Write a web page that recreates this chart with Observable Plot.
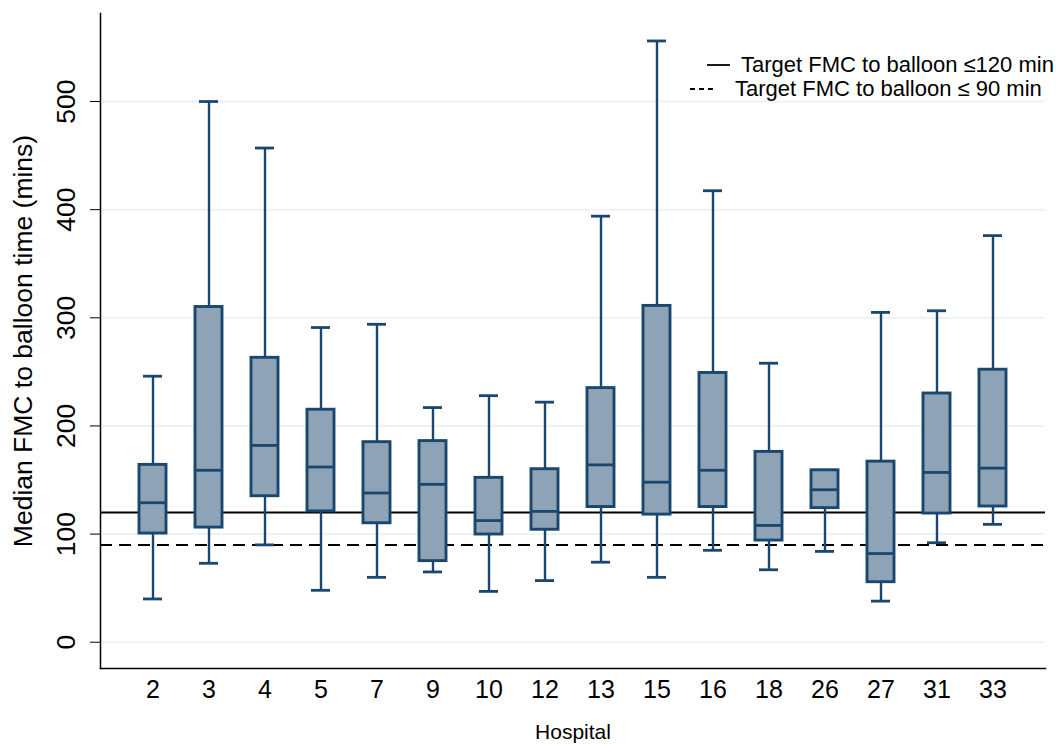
<!DOCTYPE html>
<html><head><meta charset="utf-8">
<script src="https://cdn.jsdelivr.net/npm/d3@7"></script>
<script src="https://cdn.jsdelivr.net/npm/@observablehq/plot@0.6"></script>
<style>
body{margin:0;background:#fff;font-family:"Liberation Sans",Arial,sans-serif}
#wrap{position:relative;width:1056px;height:744px;overflow:hidden}
#legend{position:absolute;left:686px;top:53px;font-size:22px;line-height:24px;color:#000;white-space:nowrap}
#legend .row{display:flex;align-items:center}
</style>
</head><body><div id="wrap"><div id="legend"></div></div>
<script>
const hospitals = ["2","3","4","5","7","9","10","12","13","15","16","18","26","27","31","33"];
const lowWhisker = [40,73,90,48,60,65,47,57,74,60,85,67,84,38,92,109];
const q1 = [100.5,106,135,121,110,75,99.6,104,125,118,125,94,124,55.5,119,125.5];
const median = [129,159,182,162,138,146,112.5,121,164,148,159,108,141,82,157,161];
const q3 = [164,310,263,215,185,186,152,160,235,311,249,176,159,167,230,252];
const highWhisker = [246,500,457,291,294,217,228,222,394,556,417.5,258,159,305,306.5,376];
const yTicks = [0,100,200,300,400,500];
const targetLines = [120, 90];
const targetLabels = ["Target FMC to balloon \u2264120 min", "Target FMC to balloon \u2264 90 min"];

const data = hospitals.map((h,i)=>({h, lo:lowWhisker[i], q1:q1[i], med:median[i], q3:q3[i], hi:highWhisker[i]}));
const navy = "#1a476f", fillc = "#8ea3b6";

const chart = Plot.plot({
  width: 1056, height: 744,
  marginLeft: 100, marginRight: 11, marginTop: 13, marginBottom: 76,
  style: {fontFamily: "'Liberation Sans', Arial, sans-serif", fontSize: "25px", color: "#000", background: "#fff"},
  x: {type: "band", domain: hospitals, paddingInner: 0.52, paddingOuter: 0.62},
  y: {domain: [-24.3, 581.4]},
  marks: [
    Plot.gridY(yTicks, {stroke: "#edf2f4", strokeOpacity: 1, strokeWidth: 2}),
    Plot.ruleY([targetLines[0]], {stroke: "#000", strokeWidth: 2}),
    Plot.ruleY([targetLines[1]], {stroke: "#000", strokeWidth: 2, strokeDasharray: "12,7"}),
    Plot.ruleX(data, {x: "h", y1: "q3", y2: "hi", stroke: navy, strokeWidth: 2.4}),
    Plot.ruleX(data, {x: "h", y1: "lo", y2: "q1", stroke: navy, strokeWidth: 2.4}),
    Plot.tickY(data, {x: "h", y: "hi", stroke: navy, strokeWidth: 2.8, insetLeft: 4, insetRight: 4}),
    Plot.tickY(data, {x: "h", y: "lo", stroke: navy, strokeWidth: 2.8, insetLeft: 4, insetRight: 4}),
    Plot.barY(data, {x: "h", y1: "q1", y2: "q3", fill: fillc, stroke: navy, strokeWidth: 2.9}),
    Plot.tickY(data, {x: "h", y: "med", stroke: navy, strokeWidth: 2.8}),
    Plot.frame({anchor: "left", stroke: "#000", strokeWidth: 1.5}),
    Plot.frame({anchor: "bottom", stroke: "#000", strokeWidth: 1.5}),
    Plot.axisY(yTicks, {tickRotate: -90, tickSize: 10, tickPadding: 16, fontSize: 26.5,
      label: "Median FMC to balloon time (mins)", labelAnchor: "center", labelArrow: "none", labelOffset: 87}),
    Plot.axisX({tickSize: 0, tickPadding: 12, fontSize: 25, label: null}),
    Plot.axisX({ticks: [], label: "Hospital", labelAnchor: "center", labelArrow: "none", labelOffset: 70, fontSize: 21})
  ]
});
const wrap = document.getElementById("wrap");
wrap.insertBefore(chart, wrap.firstChild);

const legend = document.getElementById("legend");
targetLabels.forEach((t,i)=>{
  const row = document.createElement("div"); row.className = "row";
  row.innerHTML = `<svg width="${i===0?55:49}" height="24"><line x1="${i===0?21:4}" x2="${i===0?44:27}" y1="12" y2="12" stroke="#000" stroke-width="1.8" ${i===1?'stroke-dasharray="5,4"':''}/></svg><span>${t}</span>`;
  legend.appendChild(row);
});
</script>
</body></html>
